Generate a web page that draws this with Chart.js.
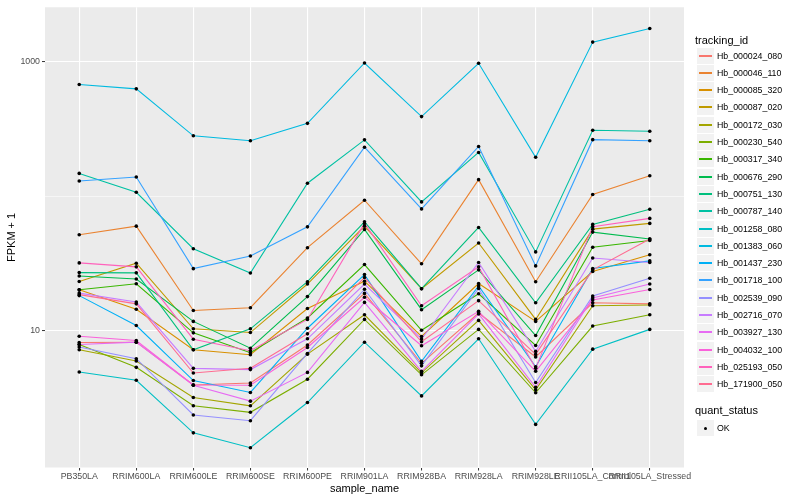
<!DOCTYPE html>
<html>
<head>
<meta charset="utf-8">
<script src="https://cdn.jsdelivr.net/npm/chart.js@4.4.1/dist/chart.umd.min.js"></script>
<style>
  html, body { margin: 0; padding: 0; background: #fff; }
  #wrap { position: relative; width: 800px; height: 500px; font-family: "Liberation Sans", Arial, sans-serif; }
  #chart { position: absolute; left: 0; top: 0; }
  .leg-title { position: absolute; left: 695px; font-size: 11px; line-height: 11px; color: #000; white-space: nowrap; }
  .leg-key { position: absolute; left: 697px; width: 17px; height: 17px; background: #F2F2F2; box-sizing: border-box; border-bottom: 1px solid #fff; }
  .leg-key .ln { position: absolute; left: 2px; width: 13px; top: 7px; height: 2px; }
  .leg-key .dot { position: absolute; left: 6.5px; top: 6.5px; width: 3.4px; height: 3.4px; border-radius: 50%; background: #000; }
  .leg-text { position: absolute; left: 717px; font-size: 8.8px; line-height: 17px; color: #000; white-space: nowrap; }
</style>
</head>
<body>
<div id="wrap">
  <canvas id="chart" width="800" height="500"></canvas>
</div>
<script>
// Amostras (eixo x) e marcas do eixo y
const samples = ["PB350LA", "RRIM600LA", "RRIM600LE", "RRIM600SE", "RRIM600PE", "RRIM901LA",
  "RRIM928BA", "RRIM928LA", "RRIM928LE", "RRII105LA_Control", "RRII105LA_Stressed"];
const yTicks = [10, 100, 1000];
const yLabelled = [10, 1000];

// FPKM + 1 por transcrito, na ordem das amostras acima
const hb_000024_080 = [8.15, 8.19, 3.93, 4.07, 7.81, 18.9, 5.70, 13.5, 6.36, 16.1, 15.8];
const hb_000046_110 = [51.7, 59.9, 14.1, 14.8, 41.4, 93.4, 31.4, 133, 23.1, 103, 142];
const hb_000085_320 = [20.1, 14.4, 7.19, 6.61, 14.6, 23.3, 9.03, 22.4, 11.7, 27.5, 36.7];
const hb_000087_020 = [23.2, 31.7, 10.3, 9.66, 22.2, 59.9, 20.5, 44.9, 12.1, 56.9, 62.8];
const hb_000172_030 = [7.19, 5.94, 3.17, 2.75, 6.67, 13.1, 4.84, 11.9, 3.62, 15.3, 15.5];
const hb_000230_540 = [7.88, 5.32, 2.75, 2.46, 4.34, 12.1, 4.68, 10.2, 3.44, 10.8, 13.1];
const hb_000317_340 = [20.1, 22.3, 9.61, 6.84, 12.4, 31.0, 10.05, 18.8, 7.74, 41.7, 46.8];
const hb_000676_290 = [25.5, 24.2, 11.7, 7.39, 17.9, 56.6, 14.3, 28.3, 9.18, 54.1, 48.0];
const hb_000751_130 = [27.0, 26.9, 7.19, 10.3, 23.1, 64.5, 20.5, 58.6, 16.1, 61.7, 80.1];
const hb_000787_140 = [148, 107, 40.7, 26.8, 125, 263, 90.8, 212, 38.5, 310, 305];
const hb_001258_080 = [4.91, 4.26, 1.73, 1.34, 2.91, 8.19, 3.26, 8.68, 2.00, 7.27, 10.2];
const hb_001383_060 = [679, 631, 282, 259, 349, 983, 392, 978, 195, 1406, 1777];
const hb_001437_230 = [18.2, 10.9, 4.24, 3.46, 10.4, 26.1, 5.89, 21.5, 5.37, 29.0, 33.0];
const hb_001718_100 = [130, 139, 28.9, 35.9, 59.2, 232, 80.5, 235, 30.3, 264, 259];
const hb_002539_090 = [7.55, 6.17, 2.35, 2.13, 6.75, 20.3, 5.46, 20.6, 4.10, 18.1, 24.5];
const hb_002716_070 = [19.0, 16.3, 5.23, 5.12, 8.68, 22.2, 8.65, 32.1, 6.99, 34.7, 32.1];
const hb_003927_130 = [7.88, 8.19, 3.91, 2.98, 4.88, 16.2, 4.97, 13.3, 3.78, 17.5, 22.2];
const hb_004032_100 = [9.07, 8.43, 3.93, 3.91, 7.48, 17.7, 7.71, 13.9, 4.97, 16.9, 20.2];
const hb_025193_050 = [31.9, 29.8, 8.62, 7.07, 12.1, 62.8, 15.3, 29.8, 5.23, 59.4, 68.4];
const hb_171900_050 = [18.5, 15.8, 4.83, 5.23, 9.45, 24.8, 8.25, 16.7, 6.64, 28.3, 48.0];

const trackingIds = ["Hb_000024_080", "Hb_000046_110", "Hb_000085_320", "Hb_000087_020",
  "Hb_000172_030", "Hb_000230_540", "Hb_000317_340", "Hb_000676_290", "Hb_000751_130",
  "Hb_000787_140", "Hb_001258_080", "Hb_001383_060", "Hb_001437_230", "Hb_001718_100",
  "Hb_002539_090", "Hb_002716_070", "Hb_003927_130", "Hb_004032_100", "Hb_025193_050",
  "Hb_171900_050"];
const seriesValues = [hb_000024_080, hb_000046_110, hb_000085_320, hb_000087_020,
  hb_000172_030, hb_000230_540, hb_000317_340, hb_000676_290, hb_000751_130,
  hb_000787_140, hb_001258_080, hb_001383_060, hb_001437_230, hb_001718_100,
  hb_002539_090, hb_002716_070, hb_003927_130, hb_004032_100, hb_025193_050,
  hb_171900_050];

// paleta hue padrão do ggplot para 20 grupos
const hueColors = ["#F8766D", "#EA8331", "#D89000", "#C09B00", "#A3A500", "#7CAE00",
  "#39B600", "#00BB4E", "#00BF7D", "#00C1A3", "#00BFC4", "#00BAE0", "#00B0F6",
  "#35A2FF", "#9590FF", "#C77CFF", "#E76BF3", "#FA62DB", "#FF62BC", "#FF6C91"];

const FONT = "'Liberation Sans', Arial, sans-serif";
Chart.defaults.font.family = FONT;

// fundo cinza do painel, estilo ggplot
const panelBg = {
  id: "panelBg",
  beforeDraw(chart) {
    const { ctx, chartArea: a } = chart;
    ctx.save();
    ctx.fillStyle = "#EBEBEB";
    ctx.fillRect(a.left, a.top, a.right - a.left, a.bottom - a.top);
    ctx.restore();
  },
};

// linhas primeiro, pontos por cima (como geom_line + geom_point)
const lineSets = trackingIds.map((id, k) => ({
  label: id,
  data: seriesValues[k].map((v, i) => ({ x: i, y: v })),
  borderColor: hueColors[k],
  backgroundColor: hueColors[k],
  borderWidth: 1.1,
  pointRadius: 0,
  tension: 0,
  fill: false,
  order: trackingIds.length - k,
}));

const pointSet = {
  label: "OK",
  data: seriesValues.flatMap((vals) => vals.map((v, i) => ({ x: i, y: v }))),
  showLine: false,
  pointRadius: 1.8,
  pointBackgroundColor: "#000",
  pointBorderWidth: 0,
  order: -1,
};

new Chart(document.getElementById("chart"), {
  type: "line",
  data: { datasets: [...lineSets, pointSet] },
  plugins: [panelBg],
  options: {
    responsive: false,
    animation: false,
    layout: { padding: { top: 5, right: 116, left: 0, bottom: 0 } },
    plugins: { legend: { display: false }, tooltip: { enabled: false } },
    scales: {
      x: {
        type: "linear",
        min: -0.6,
        max: 10.6,
        afterBuildTicks: (axis) => { axis.ticks = samples.map((_, i) => ({ value: i })); },
        afterFit: (axis) => { axis.height = 32.5; },
        border: { display: false },
        grid: { color: "#fff", lineWidth: 1.1, tickLength: 3, tickColor: "#333", tickWidth: 1 },
        ticks: {
          autoSkip: false, maxRotation: 0, minRotation: 0, padding: 1,
          color: "#4D4D4D", font: { size: 8.8 },
          callback: (v) => samples[v] ?? "",
        },
        title: { display: true, text: "sample_name", color: "#000", font: { size: 11 }, padding: { top: 0, bottom: 4 } },
      },
      y: {
        type: "logarithmic",
        min: 0.955,
        max: 2555,
        afterBuildTicks: (axis) => { axis.ticks = yTicks.map((v) => ({ value: v })); },
        afterFit: (axis) => { axis.width = 45; },
        border: { display: false },
        grid: {
          color: "#fff",
          lineWidth: (c) => (yLabelled.includes(c.tick?.value) ? 1.1 : 0.55),
          tickLength: 3,
          tickColor: (c) => (yLabelled.includes(c.tick?.value) ? "#333" : "rgba(0,0,0,0)"),
          tickWidth: 1,
        },
        ticks: {
          padding: 2, color: "#4D4D4D", font: { size: 8.8 },
          callback: (v) => (yLabelled.includes(v) ? String(v) : ""),
        },
        title: { display: true, text: "FPKM + 1", color: "#000", font: { size: 11 }, padding: { top: 5, bottom: 0 } },
      },
    },
  },
});

// legenda à direita, montada em HTML
const wrap = document.getElementById("wrap");
function addEl(cls, css, html) {
  const el = document.createElement("div");
  el.className = cls;
  Object.assign(el.style, css);
  if (html) el.innerHTML = html;
  wrap.appendChild(el);
  return el;
}

addEl("leg-title", { top: "35px" }).textContent = "tracking_id";
trackingIds.forEach((id, k) => {
  const top = Math.round(47.5 + k * 17.3);
  addEl("leg-key", { top: top + "px" }, `<div class="ln" style="background:${hueColors[k]}"></div>`);
  addEl("leg-text", { top: top + "px" }).textContent = id;
});

addEl("leg-title", { top: "404.5px" }).textContent = "quant_status";
addEl("leg-key", { top: "420px" }, '<div class="dot"></div>');
addEl("leg-text", { top: "420px" }).textContent = pointSet.label;
</script>
</body>
</html>
